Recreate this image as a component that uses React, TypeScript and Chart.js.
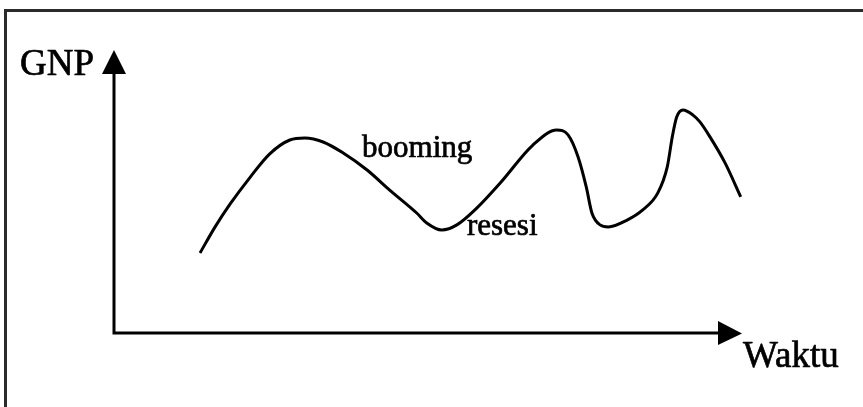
import { useEffect, useRef } from "react";
import { Chart, registerables } from "chart.js";

Chart.register(...registerables);

// Time (waktu) positions along the horizontal axis, 0..100
const time = [
  13.7, 16.1, 18.5, 21.7, 24.8, 28.0, 30.4, 33.3, 36.5, 40.3, 43.9, 48.2, 49.8,
  52.2, 54.6, 57.8, 61.5, 66.7, 70.5, 72.3, 73.9, 75.2, 76.1, 77.4, 78.7, 81.7,
  84.2, 86.6, 88.1, 88.9, 89.6, 90.6, 92.2, 93.3, 94.9, 97.3, 99.8,
];
// GNP level, 0..100
const gnp = [
  28.3, 37.5, 45.6, 55.1, 63.3, 68.2, 68.9, 67.5, 63.6, 57.6, 50.5, 42.4, 38.9,
  36.4, 38.2, 44.2, 53.0, 66.4, 71.7, 70.0, 62.2, 51.6, 42.4, 38.2, 37.5, 39.9,
  43.5, 49.5, 58.7, 69.3, 76.3, 78.8, 77.0, 74.6, 69.3, 60.1, 48.1,
];

const yAxisLabel = "GNP";
const xAxisLabel = "Waktu";
const annotationTexts = ["booming", "resesi"];
const annotationX = [39.5, 56.2];
const annotationY = [62.2, 34.6];

export default function App() {
  const ref = useRef<HTMLCanvasElement | null>(null);

  useEffect(() => {
    document.body.style.margin = "0";
    const drawText = (
      ctx: CanvasRenderingContext2D,
      t: string,
      x: number,
      y: number
    ) => {
      ctx.fillText(t, x, y);
      ctx.strokeText(t, x, y);
    };
    const sketch = {
      id: "sketch",
      afterDraw(chart: any) {
        const ctx: CanvasRenderingContext2D = chart.ctx;
        const xs = chart.scales.x;
        const ys = chart.scales.y;
        const ox = xs.getPixelForValue(0);
        const oy = ys.getPixelForValue(0);
        const xt = xs.getPixelForValue(100);
        const yt = ys.getPixelForValue(100);
        const aLen = 24;
        const aHalf = 12;
        ctx.save();
        // frame
        ctx.strokeStyle = "#2b2b2b";
        ctx.lineWidth = 3;
        ctx.strokeRect(5.5, 10.5, 900, 500);
        // axes
        ctx.strokeStyle = "#000";
        ctx.fillStyle = "#000";
        ctx.lineWidth = 3;
        ctx.lineJoin = "miter";
        ctx.beginPath();
        ctx.moveTo(ox, yt + aLen - 2);
        ctx.lineTo(ox, oy);
        ctx.lineTo(xt - aLen + 2, oy);
        ctx.stroke();
        // y arrowhead
        ctx.beginPath();
        ctx.moveTo(ox, yt);
        ctx.lineTo(ox - aHalf, yt + aLen);
        ctx.lineTo(ox + aHalf, yt + aLen);
        ctx.closePath();
        ctx.fill();
        // x arrowhead
        ctx.beginPath();
        ctx.moveTo(xt, oy + 0.5);
        ctx.lineTo(xt - aLen, oy - aHalf);
        ctx.lineTo(xt - aLen, oy + aHalf);
        ctx.closePath();
        ctx.fill();
        // axis labels
        ctx.lineWidth = 0.7;
        ctx.lineJoin = "round";
        ctx.textBaseline = "alphabetic";
        ctx.font = "37px 'Liberation Serif', 'DejaVu Serif', serif";
        ctx.textAlign = "right";
        drawText(ctx, yAxisLabel, ox - 20, yt + 25);
        ctx.textAlign = "left";
        drawText(ctx, xAxisLabel, xt + 1, oy + 34);
        // annotations
        ctx.font = "31px 'Liberation Serif', 'DejaVu Serif', serif";
        annotationTexts.forEach((t, i) => {
          drawText(
            ctx,
            t,
            xs.getPixelForValue(annotationX[i]),
            ys.getPixelForValue(annotationY[i])
          );
        });
        ctx.restore();
      },
    };

    const chart = new Chart(ref.current as HTMLCanvasElement, {
      type: "line",
      data: {
        datasets: [
          {
            data: time.map((t, i) => ({ x: t, y: gnp[i] })),
            borderColor: "#000",
            borderWidth: 3,
            pointRadius: 0,
            cubicInterpolationMode: "monotone",
            fill: false,
          },
        ],
      },
      options: {
        responsive: false,
        animation: false,
        layout: { padding: { left: 114, right: 121, top: 50, bottom: 74 } },
        plugins: { legend: { display: false }, tooltip: { enabled: false } },
        scales: {
          x: { type: "linear", min: 0, max: 100, display: false },
          y: { type: "linear", min: 0, max: 100, display: false },
        },
      },
      plugins: [sketch],
    });
    return () => chart.destroy();
  }, []);

  return (
    <canvas
      ref={ref}
      width={863}
      height={407}
      style={{ display: "block" }}
    />
  );
}
